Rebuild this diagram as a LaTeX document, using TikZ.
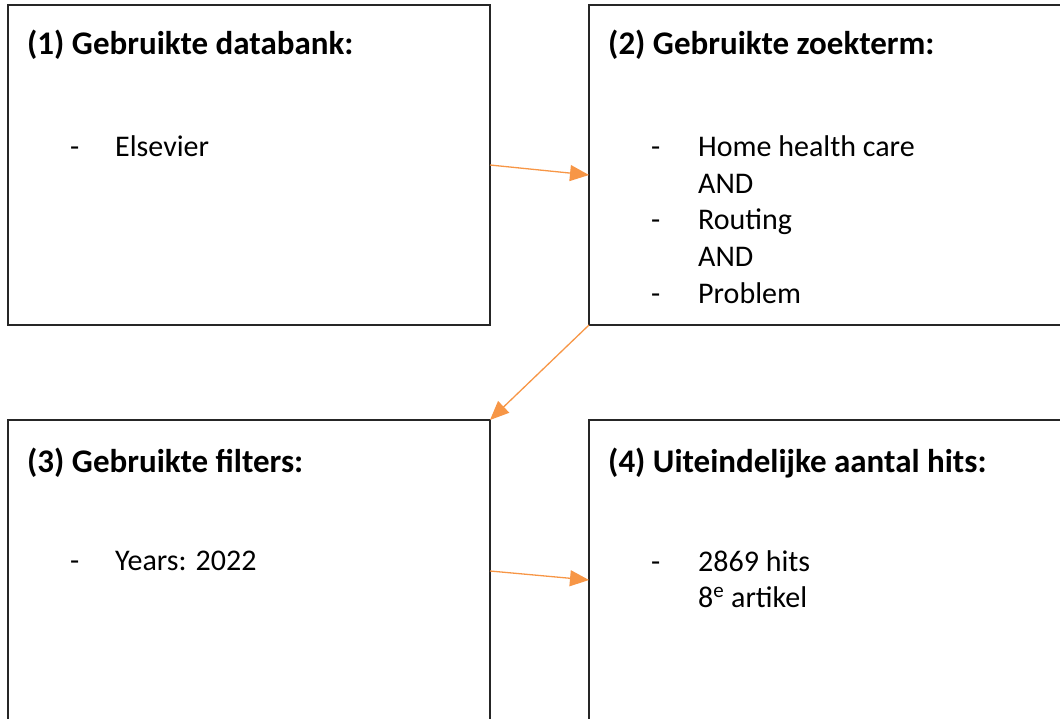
\documentclass[tikz,border=0pt]{standalone}
\usepackage{fontspec}
\setmainfont{Carlito}
\usetikzlibrary{arrows.meta}
\definecolor{arroworange}{HTML}{F79646}
\tikzset{
  box/.style={draw=black!85, line width=1.2pt, rectangle, outer sep=0pt, inner sep=0pt, anchor=north west},
  heading/.style={anchor=base west, inner sep=0pt, font=\bfseries\fontsize{33}{40}\selectfont},
  item/.style={anchor=base west, inner sep=0pt, font=\fontsize{30}{37}\selectfont},
  link/.style={draw=arroworange, line width=1.3pt, -{Triangle[length=19pt,width=16pt]}}
}
\begin{document}
\begin{tikzpicture}[x=1pt,y=-1pt]
    \useasboundingbox (0,0) rectangle (1060,719);
    \clip (0,0) rectangle (1060,719);
    % boxes
    \node[box, minimum width=482pt, minimum height=320pt] (b1) at (8,5) {};
    \node[box, minimum width=490pt, minimum height=320pt] (b2) at (589,5) {};
    \node[box, minimum width=482pt, minimum height=302pt] (b3) at (8,420) {};
    \node[box, minimum width=490pt, minimum height=302pt] (b4) at (589,420) {};
    % box 1
    \node[heading] (h1) at (27,55) {(1) Gebruikte databank:};
    \node[item] (d1) at (70,157) {-};
    \node[item] (t1) at (115,157) {Elsevier};
    % box 2
    \node[heading] (h2) at (608,55) {(2) Gebruikte zoekterm:};
    \node[item] (d2a) at (651,157) {-};
    \node[item] (t2a) at (698,157) {Home health care};
    \node[item] (t2b) at (698,194) {AND};
    \node[item] (d2c) at (651,230) {-};
    \node[item] (t2c) at (698,230) {Routing};
    \node[item] (t2d) at (698,267) {AND};
    \node[item] (d2e) at (651,304) {-};
    \node[item] (t2e) at (698,304) {Problem};
    % box 3
    \node[heading] (h3) at (27,472) {(3) Gebruikte filters:};
    \node[item] (d3) at (70,570) {-};
    \node[item] (t3) at (115,570) {Years: 2022};
    % box 4
    \node[heading] (h4) at (608,472) {(4) Uiteindelijke aantal hits:};
    \node[item] (d4) at (651,571) {-};
    \node[item] (t4a) at (698,571) {2869 hits};
    \node[item] (t4b) at (698,607) {8\textsuperscript{e} artikel};
    % arrows
    \draw[link] (b1.east) -- ([yshift=-10pt]b2.west);
    \draw[link] (b2.south west) -- (b3.north east);
    \draw[link] (b3.east) -- ([yshift=-9pt]b4.west);
\end{tikzpicture}
\end{document}
